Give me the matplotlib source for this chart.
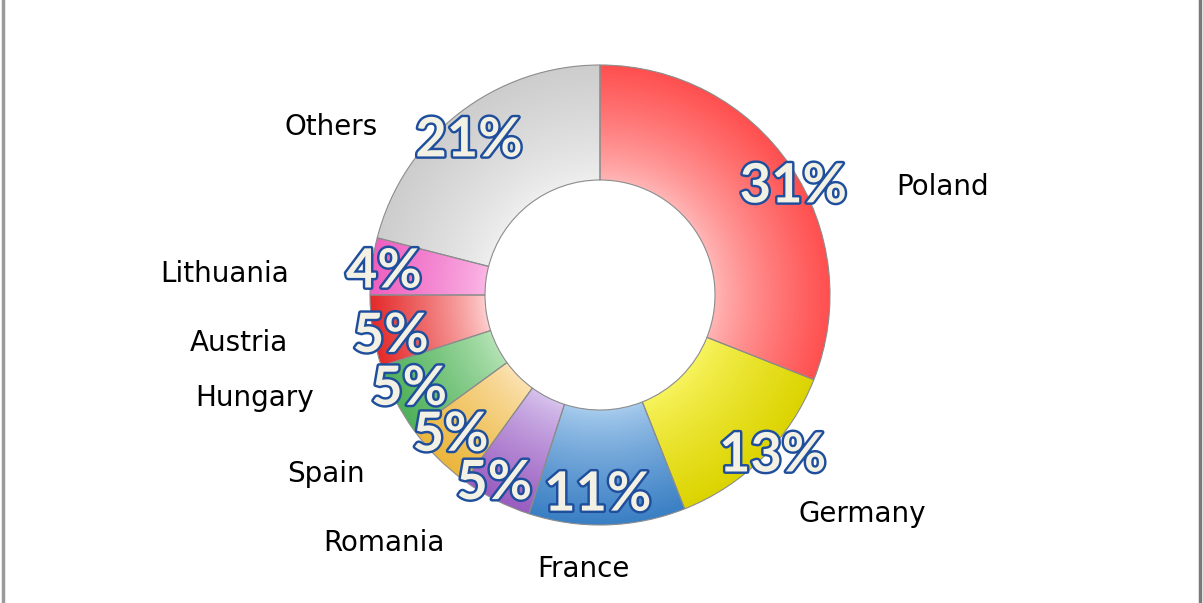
import numpy as np
import matplotlib
matplotlib.use("Agg")
import matplotlib.pyplot as plt
import matplotlib.patheffects as pe
from matplotlib.colors import to_rgb
from matplotlib.lines import Line2D

# Data
countries = ["Poland", "Germany", "France", "Romania", "Spain",
             "Hungary", "Austria", "Lithuania", "Others"]
shares = [31, 13, 11, 5, 5, 5, 5, 4, 21]

# colours: outer (saturated) and inner (light) tone per slice
outer_colors = ["#FF4F4F", "#DCD400", "#3A7FC4", "#9A5CC0", "#EBB63C",
                "#4FB05A", "#E42A2A", "#EE5FC0", "#CDCDCD"]
inner_colors = ["#FFB8B8", "#F8F460", "#A9CDEE", "#D8C4EE", "#FCE3B4",
                "#B6E4B6", "#FFD2D2", "#FBB8E6", "#EFEFEF"]

# label layout (data units, radius 1 = outer ring)
name_pos = [(1.49, 0.47), (1.14, -0.95), (-0.07, -1.19), (-0.94, -1.08),
            (-1.19, -0.78), (-1.50, -0.45), (-1.57, -0.21), (-1.63, 0.09),
            (-1.17, 0.73)]
pct_pos = [(0.84, 0.47), (0.75, -0.70), (-0.01, -0.87), (-0.46, -0.82),
           (-0.65, -0.61), (-0.83, -0.41), (-0.91, -0.18), (-0.94, 0.10),
           (-0.57, 0.67)]

W, H = 1203, 603
cx, cy, R = 600, 295, 230

fig = plt.figure(figsize=(W / 100, H / 100), dpi=100)
ax = fig.add_axes([0, 0, 1, 1])

wedges, _ = ax.pie(shares, radius=1, startangle=90, counterclock=False,
                   colors=outer_colors,
                   wedgeprops=dict(width=0.5, edgecolor="#8c8c8c", linewidth=0.8))

# radial shading inside each slice
g = np.linspace(-1, 1, 600)
gx, gy = np.meshgrid(g, g)
rr = np.sqrt(gx ** 2 + gy ** 2)
t = np.clip((rr - 0.5) / 0.5, 0, 1)[..., None] ** 0.8
for w, oc, ic in zip(wedges, outer_colors, inner_colors):
    img = np.array(to_rgb(ic)) * (1 - t) + np.array(to_rgb(oc)) * t
    im = ax.imshow(img, extent=(-1, 1, -1, 1), origin="lower", zorder=1.5,
                   interpolation="bilinear")
    im.set_clip_path(w)
    w.set_zorder(2)
    w.set_facecolor("none")

ax.set_aspect("auto")
ax.set_xlim(-cx / R, (W - cx) / R)
ax.set_ylim(-(H - cy) / R, cy / R)
ax.axis("off")

for name, (x, y) in zip(countries, name_pos):
    ax.text(x, y, name, ha="center", va="center", fontsize=20,
            family="DejaVu Sans", color="black", zorder=5)

stroke = [pe.Stroke(linewidth=3.5, foreground="#1F4F9C"), pe.Normal()]
for v, (x, y) in zip(shares, pct_pos):
    ax.text(x, y, f"{v}%", ha="center", va="center", fontsize=39,
            family="Lato", fontweight="bold", color="#F3F0E4",
            path_effects=stroke, zorder=6)

fig.add_artist(Line2D([3 / W, 3 / W], [0, 1], color="#9a9a9a", lw=2.5))
fig.add_artist(Line2D([1200 / W, 1200 / W], [0, 1], color="#7a7a7a", lw=2.5))

fig.savefig("out.png", dpi=100)
